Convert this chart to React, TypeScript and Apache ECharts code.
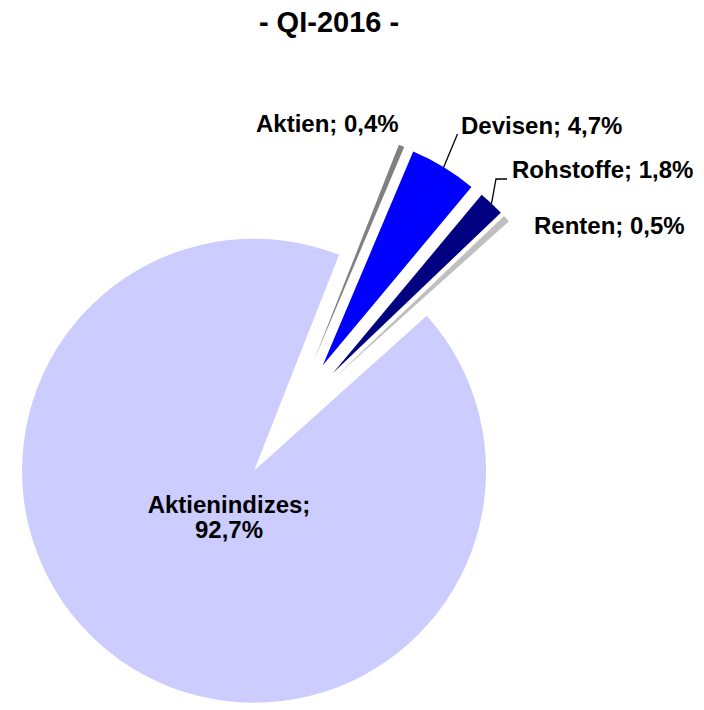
import React, { useEffect, useRef } from 'react';
import * as echarts from 'echarts';

const titleText = '- QI-2016 -';
const categories = ['Aktien', 'Devisen', 'Rohstoffe', 'Renten', 'Aktienindizes'];
const shares = [0.4, 4.7, 1.8, 0.5, 92.7];
const colors = ['#808080', '#0000FF', '#000080', '#BFBFBF', '#CCCCFF'];
// label anchors: [x, middle y]; last label is centred
const labelAnchors = [[256, 123], [461, 125], [512, 169.5], [534, 225], [229, 517]];
const leaderKind = ['none', 'straight', 'elbow', 'none', 'none'];

const FONT = '"Liberation Sans", Arial, sans-serif';
const PIE_CX = 290;
const PIE_CY = 419;
const PIE_R = 232;
const EXPLODE = 63;
const START_ANGLE = 68.5;

function fmt(v: number) {
  return v.toFixed(1).replace('.', ',');
}

function arcMid(i: number): [number, number] {
  const total = shares.reduce((a, b) => a + b, 0);
  const before = shares.slice(0, i).reduce((a, b) => a + b, 0);
  const a0 = START_ANGLE - (360 * before) / total;
  const a1 = a0 - (360 * shares[i]) / total;
  const m = (((a0 + a1) / 2) * Math.PI) / 180;
  const d = PIE_R + EXPLODE;
  return [PIE_CX + d * Math.cos(m), PIE_CY - d * Math.sin(m)];
}

export default function App() {
  const ref = useRef<HTMLDivElement>(null);
  useEffect(() => {
    if (!ref.current) return;
    const chart = echarts.init(ref.current, null, { renderer: 'svg' });

    const graphics: any[] = [
      {
        type: 'text',
        z: 10,
        x: 329,
        y: 21.7,
        style: {
          text: titleText,
          fill: '#000',
          fontSize: 29,
          fontWeight: 'bold',
          fontFamily: FONT,
          align: 'center',
          verticalAlign: 'middle',
        },
      },
    ];
    categories.forEach((name, i) => {
      const [ax, ay] = labelAnchors[i];
      const text = i === 4 ? `${name};\n${fmt(shares[i])}%` : `${name}; ${fmt(shares[i])}%`;
      graphics.push({
        type: 'text',
        z: 10,
        x: ax,
        y: ay,
        style: {
          text,
          fill: '#000',
          fontSize: 24,
          fontWeight: 'bold',
          fontFamily: FONT,
          lineHeight: 25,
          align: i === 4 ? 'center' : 'left',
          verticalAlign: 'middle',
        },
      });
      const p0 = arcMid(i);
      let pts: number[][] | null = null;
      if (leaderKind[i] === 'straight') pts = [p0, [ax - 3.5, ay + 9]];
      else if (leaderKind[i] === 'elbow') pts = [p0, [ax - 16, ay + 9.5], [ax - 5, ay + 9.5]];
      if (pts) {
        graphics.push({
          type: 'polyline',
          z: 10,
          shape: { points: pts },
          style: { stroke: '#000', lineWidth: 1.3, fill: 'none' },
        });
      }
    });

    const option: any = {
      animation: false,
      backgroundColor: '#ffffff',
      graphic: graphics,
      series: [
        {
          type: 'pie',
          z: 2,
          center: [PIE_CX, PIE_CY],
          radius: PIE_R,
          startAngle: START_ANGLE,
          clockwise: true,
          selectedMode: 'multiple',
          selectedOffset: EXPLODE,
          avoidLabelOverlap: false,
          emphasis: { disabled: true },
          itemStyle: { borderWidth: 0 },
          label: { show: false },
          labelLine: { show: false },
          data: categories.map((name, i) => ({
            name,
            value: shares[i],
            selected: true,
            itemStyle: { color: colors[i] },
          })),
        },
      ],
    };
    chart.setOption(option);
    return () => chart.dispose();
  }, []);
  return (
    <div
      ref={ref}
      style={{ position: 'fixed', left: 0, top: 0, width: 704, height: 710, background: '#fff' }}
    />
  );
}
